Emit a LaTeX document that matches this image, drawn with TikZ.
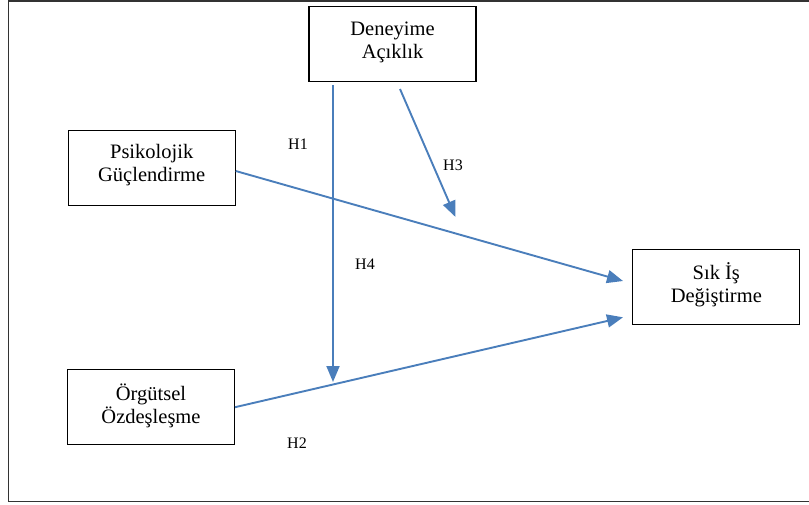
\documentclass[tikz,border=0pt]{standalone}
\usepackage{fontspec}
\setmainfont{Liberation Serif}
\usetikzlibrary{arrows.meta}
\definecolor{arrblue}{RGB}{74,126,187}
\begin{document}
\begin{tikzpicture}[x=1pt,y=-1pt,
  box/.style={draw=black,line width=1.1pt,minimum width=167pt,minimum height=75pt,
    align=center,inner sep=0pt},
  txt/.style={align=center,inner sep=0pt,font=\fontsize{20.5}{23}\selectfont},
  lbl/.style={font=\fontsize{16}{18}\selectfont,inner sep=0pt},
  arr/.style={draw=arrblue,line width=1.9pt,-{Triangle[length=16pt,width=13pt]}}]
\useasboundingbox (0,0) rectangle (809,504);
\draw[line width=1.4pt,color=black!80] (8.3,0.8) rectangle (830,501.5);
\node[box] (den) at (392.5,44) {};
\node[box] (psik) at (151.7,168) {};
\node[box] (org) at (151,407.2) {};
\node[box] (sik) at (716.3,287) {};
\node[txt] (dentxt) at ([yshift=2pt]den.center) {Deneyime\\Açıklık};
\node[txt] (psiktxt) at ([yshift=2.5pt]psik.center) {Psikolojik\\Güçlendirme};
\node[txt] (orgtxt) at ([yshift=1pt]org.center) {Örgütsel\\Özdeşleşme};
\node[txt] (siktxt) at ([yshift=2pt]sik.center) {Sık İş\\Değiştirme};
\coordinate (h4s) at (333,85);
\coordinate (h4e) at (333,382);
\coordinate (h3s) at (400,89);
\coordinate (h3e) at (455.5,217);
\coordinate (t1) at (623,281);
\coordinate (t2) at (623,317.3);
\draw[arr] ([yshift=-3pt]psik.east) -- (t1);
\draw[arr] (org.east) -- (t2);
\draw[arr] (h4s) -- (h4e);
\draw[arr] (h3s) -- (h3e);
\node[lbl] (H1) at (298,144) {H1};
\node[lbl] (H3) at (453,165) {H3};
\node[lbl] (H4) at (365,264) {H4};
\node[lbl] (H2) at (297,443) {H2};
\end{tikzpicture}
\end{document}
